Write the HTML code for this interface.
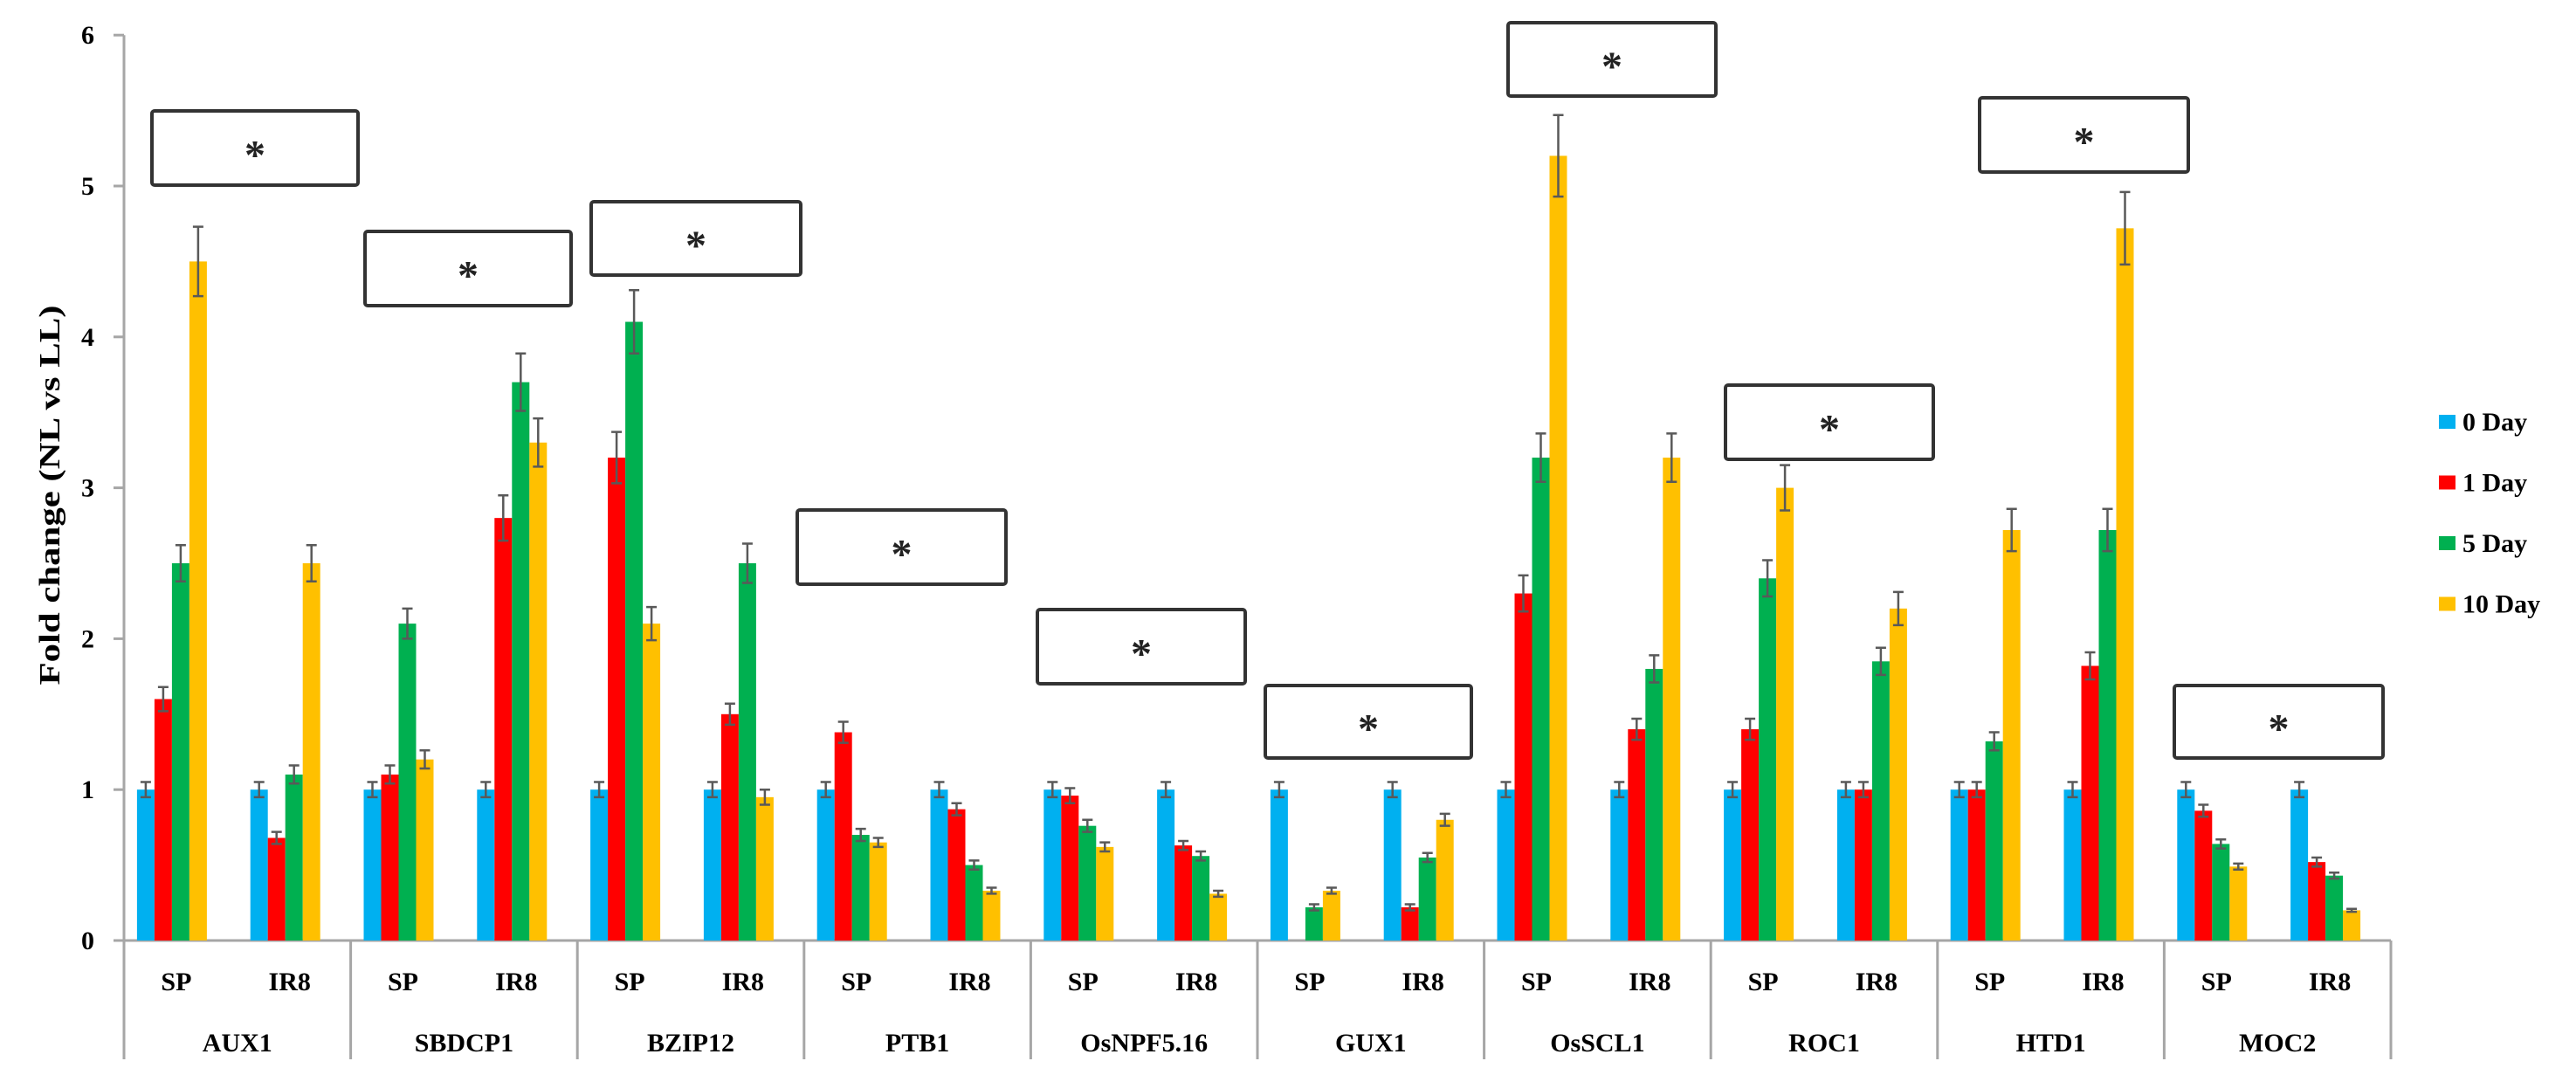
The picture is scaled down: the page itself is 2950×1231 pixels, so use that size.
<!DOCTYPE html>
<html><head><meta charset="utf-8">
<style>
html,body{margin:0;padding:0;background:#fff;}
svg{display:block;font-family:"Liberation Serif",serif;font-weight:bold;}
</style></head>
<body>
<svg id="chart" width="2950" height="1231" viewBox="0 0 2950 1231" xmlns="http://www.w3.org/2000/svg">
<text transform="translate(68,567) rotate(-90)" text-anchor="middle" font-size="34" textLength="435" lengthAdjust="spacingAndGlyphs">Fold change (NL vs LL)</text>
<g id="plot"></g>
</svg>
<script>
const genes = ["AUX1","SBDCP1","BZIP12","PTB1","OsNPF5.16","GUX1","OsSCL1","ROC1","HTD1","MOC2"];
const cultivars = ["SP","IR8"];
const seriesNames = ["0 Day","1 Day","5 Day","10 Day"];
const yTicks = [0,1,2,3,4,5,6];
// values per cluster (gene x cultivar order: SP, IR8)
const day0 = [1,1, 1,1, 1,1, 1,1, 1,1, 1,1, 1,1, 1,1, 1,1, 1,1];
const day1 = [1.6,0.68, 1.1,2.8, 3.2,1.5, 1.38,0.87, 0.96,0.63, 0.0,0.22, 2.3,1.4, 1.4,1.0, 1.0,1.82, 0.86,0.52];
const day5 = [2.5,1.1, 2.1,3.7, 4.1,2.5, 0.7,0.5, 0.76,0.56, 0.22,0.55, 3.2,1.8, 2.4,1.85, 1.32,2.72, 0.64,0.43];
const day10 = [4.5,2.5, 1.2,3.3, 2.1,0.95, 0.65,0.33, 0.62,0.31, 0.33,0.8, 5.2,3.2, 3.0,2.2, 2.72,4.72, 0.49,0.2];
const err0 = [0.05,0.05, 0.05,0.05, 0.05,0.05, 0.05,0.05, 0.05,0.05, 0.05,0.05, 0.05,0.05, 0.05,0.05, 0.05,0.05, 0.05,0.05];
const err1 = [0.08,0.04, 0.06,0.15, 0.17,0.07, 0.07,0.04, 0.05,0.03, 0.0,0.02, 0.12,0.07, 0.07,0.05, 0.05,0.09, 0.04,0.03];
const err5 = [0.12,0.06, 0.1,0.19, 0.21,0.13, 0.04,0.03, 0.04,0.03, 0.02,0.03, 0.16,0.09, 0.12,0.09, 0.06,0.14, 0.03,0.02];
const err10 = [0.23,0.12, 0.06,0.16, 0.11,0.05, 0.03,0.02, 0.03,0.02, 0.02,0.04, 0.27,0.16, 0.15,0.11, 0.14,0.24, 0.02,0.01];
const series = [day0,day1,day5,day10];
const errs = [err0,err1,err5,err10];
const colors = ["#00B0F0","#FF0000","#00B050","#FFC000"];
// significance boxes (annotation positions, px)
const boxes = [[174,127,236,85],[418,265,236,85],[677,231,240,84],[913,584,239,85],[1188,698,238,85],[1449,785,236,83],[1727,26,238,84],[1976,441,238,85],[2267,112,239,85],[2490,785,239,83]];

const NS="http://www.w3.org/2000/svg";
const svg=document.getElementById('plot');
const X0=142, X1=2738, Y0=1077, UNIT=172.8, BAR=20;
const slotW=(X1-X0)/(genes.length*2);
function yScale(v){return Y0-v*UNIT;}
function slotCenter(i){return X0+slotW*(i+0.5)-10;}
function mk(tag,attrs){const e=document.createElementNS(NS,tag);for(const k in attrs)e.setAttribute(k,attrs[k]);svg.appendChild(e);return e;}

// y axis
let ax=mk('line',{x1:X0,y1:yScale(6),x2:X0,y2:1213,stroke:'#a6a6a6','stroke-width':3});


yTicks.forEach(t=>{
  const tk=mk('line',{x1:130,y1:yScale(t),x2:X0,y2:yScale(t),stroke:'#a6a6a6','stroke-width':3});
  
  
  const tl=mk('text',{x:108,y:yScale(t)+10,'text-anchor':'end','font-size':30});
  tl.textContent=t;
  
  
});
// x axis
let xa=mk('line',{x1:X0,y1:Y0,x2:X1,y2:Y0,stroke:'#a6a6a6','stroke-width':3});


for(let g=0;g<=genes.length;g++){
  const x=X0+g*slotW*2;
  const s=mk('line',{x1:x,y1:Y0,x2:x,y2:1213,stroke:'#a6a6a6','stroke-width':3});
  
  
}
genes.forEach((gn,g)=>{
  const t=mk('text',{x:X0+(g+0.5)*slotW*2,y:1204,'text-anchor':'middle','font-size':30});
  t.textContent=gn;
  
  
  cultivars.forEach((c,ci)=>{
    const t2=mk('text',{x:X0+slotW*(g*2+ci+0.5)-5,y:1134,'text-anchor':'middle','font-size':30});
    t2.textContent=c;
    
    
  });
});
// bars
for(let i=0;i<genes.length*2;i++){
  const cx=slotCenter(i);
  series.forEach((s,si)=>{
    const v=s[i];
    const x=cx-2*BAR+si*BAR;
    const r=mk('rect',{x:x,y:yScale(v),width:BAR,height:Y0-yScale(v),fill:colors[si]});
    
    
    const e=errs[si][i];
    if(v>0){
      const xm=x+BAR/2;
      const el=mk('path',{d:`M${xm},${yScale(v+e)}V${yScale(v-e)}M${xm-6},${yScale(v+e)}H${xm+6}M${xm-6},${yScale(v-e)}H${xm+6}`,stroke:'#595959','stroke-width':2.5,fill:'none'});
      
      
    }
  });
}
// significance boxes
boxes.forEach(b=>{
  const r=mk('rect',{x:b[0],y:b[1],width:b[2],height:b[3],fill:'#fff',stroke:'#333','stroke-width':4,rx:3});
  
  
  const t=mk('text',{x:b[0]+b[2]/2,y:b[1]+b[3]/2+24,'text-anchor':'middle','font-size':48,fill:'#222'});
  t.textContent='*';
  
  
});
// legend
seriesNames.forEach((n,i)=>{
  const y=483+i*69.5;
  const r=mk('rect',{x:2793,y:y-8,width:19,height:16,fill:colors[i]});
  
  
  const t=mk('text',{x:2820,y:y+10,'font-size':30});
  t.textContent=n;
  
  
});
</script>
</body></html>
